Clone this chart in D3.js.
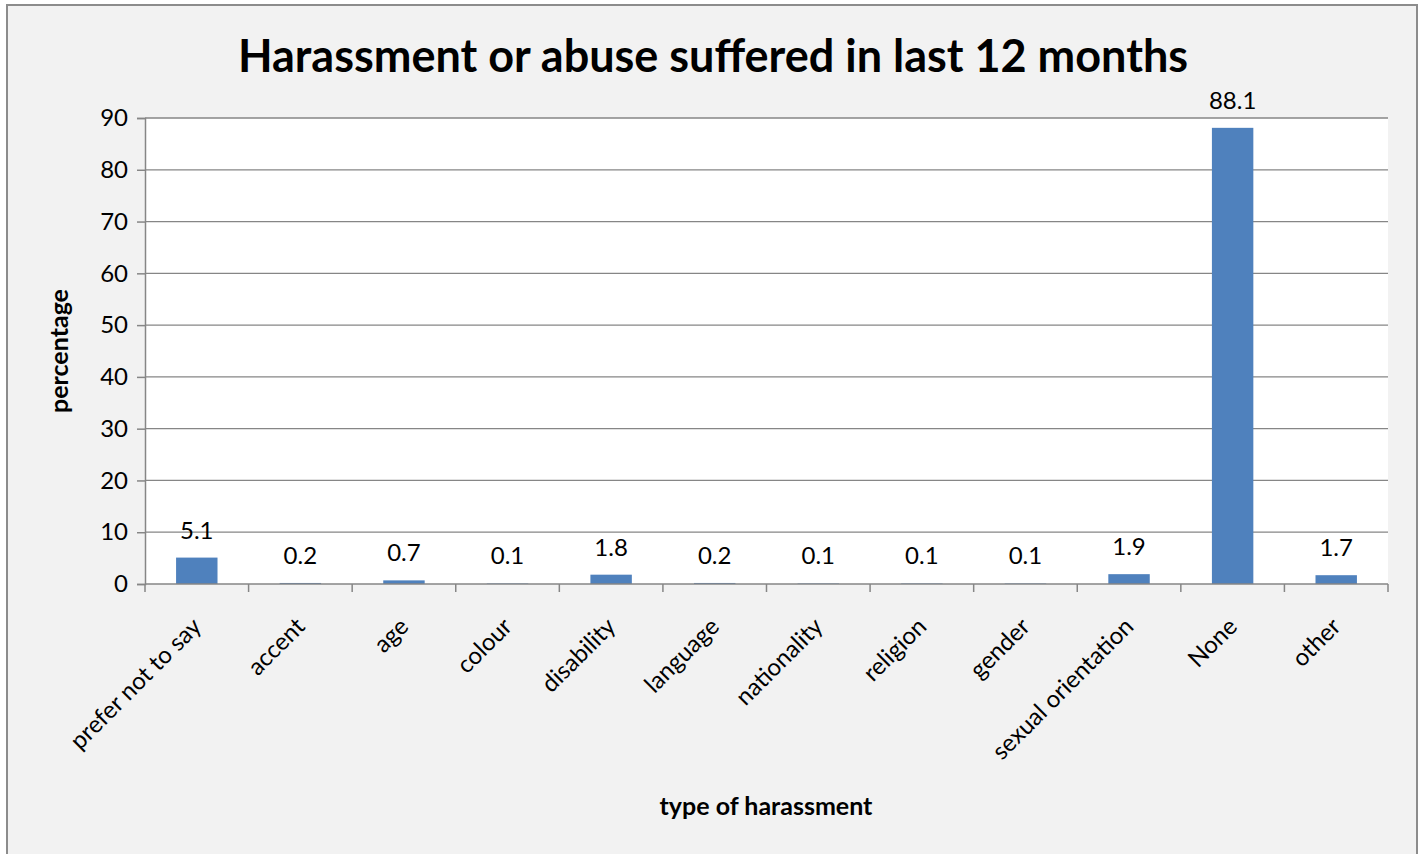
<!DOCTYPE html>
<html><head><meta charset="utf-8">
<script src="https://cdn.jsdelivr.net/npm/d3@7"></script>
<style>html,body{margin:0;padding:0;background:#fff;}svg{display:block;}</style>
</head><body>
<svg id="c" width="1426" height="854"></svg>
<script>
const categories = ["prefer not to say","accent","age","colour","disability","language","nationality","religion","gender","sexual orientation","None","other"];
const values = [5.1,0.2,0.7,0.1,1.8,0.2,0.1,0.1,0.1,1.9,88.1,1.7];
const yTicks = [0,10,20,30,40,50,60,70,80,90];
const title = "Harassment or abuse suffered in last 12 months";
const xTitle = "type of harassment";
const yTitle = "percentage";

const svg = d3.select("#c");
const font = "Lato, 'Open Sans', sans-serif";
svg.append("rect").attr("x",7).attr("y",5).attr("width",1410).attr("height",860)
  .attr("fill","#f2f2f2").attr("stroke","#8c8c8c").attr("stroke-width",2);

const L=145,R=1388,T=118,B=584;
const x = d3.scaleBand().domain(categories).range([L,R]).paddingInner(0.6).paddingOuter(0.3);
const y = d3.scaleLinear().domain([0,90]).range([B,T]);

svg.append("rect").attr("x",L).attr("y",T).attr("width",R-L).attr("height",B-T).attr("fill","#fff");

svg.append("g").selectAll("line").data(yTicks.filter(d=>d>0)).join("line")
  .attr("x1",L).attr("x2",R).attr("y1",d=>y(d)).attr("y2",d=>y(d))
  .attr("stroke","#868686").attr("stroke-width",1.3);

svg.append("g").selectAll("rect").data(values).join("rect")
  .attr("x",(d,i)=>x(categories[i])).attr("width",x.bandwidth())
  .attr("y",d=>y(d)).attr("height",d=>B-y(d)).attr("fill","#4f81bd");

const ya = svg.append("g").attr("transform",`translate(${L},0)`)
  .call(d3.axisLeft(y).tickValues(yTicks).tickSize(8).tickPadding(9));
ya.select(".domain").attr("stroke","#868686").attr("stroke-width",1.5);
ya.selectAll(".tick line").attr("stroke","#868686").attr("stroke-width",1.5);
ya.selectAll(".tick text").attr("font-family",font).attr("font-size",24).attr("fill","#000");

const step = (R-L)/categories.length;
svg.append("line").attr("x1",L).attr("x2",R).attr("y1",B).attr("y2",B).attr("stroke","#868686").attr("stroke-width",1.5);
svg.append("g").selectAll("line").data(d3.range(categories.length+1)).join("line")
  .attr("x1",i=>L+i*step).attr("x2",i=>L+i*step).attr("y1",B).attr("y2",B+8)
  .attr("stroke","#868686").attr("stroke-width",1.5);

svg.append("g").selectAll("text").data(categories).join("text")
  .attr("transform",d=>`translate(${x(d)+x.bandwidth()/2+6},${B+44}) rotate(-45)`)
  .attr("text-anchor","end").attr("font-family",font).attr("font-size",24).attr("fill","#000")
  .text(d=>d);

svg.append("g").selectAll("text").data(values).join("text")
  .attr("x",(d,i)=>x(categories[i])+x.bandwidth()/2).attr("y",d=>y(d)-19)
  .attr("text-anchor","middle").attr("font-family",font).attr("font-size",24).attr("fill","#000")
  .text(d=>d.toFixed(1));

svg.append("text").attr("x",713).attr("y",72).attr("text-anchor","middle")
  .attr("font-family",font).attr("font-weight","bold").attr("font-size",45).attr("fill","#000").text(title);
svg.append("text").attr("x",766).attr("y",815).attr("text-anchor","middle")
  .attr("font-family",font).attr("font-weight","bold").attr("font-size",25).attr("fill","#000").text(xTitle);
svg.append("text").attr("transform","translate(68,351) rotate(-90)").attr("text-anchor","middle")
  .attr("font-family",font).attr("font-weight","bold").attr("font-size",25).attr("fill","#000").text(yTitle);
</script>
</body></html>
